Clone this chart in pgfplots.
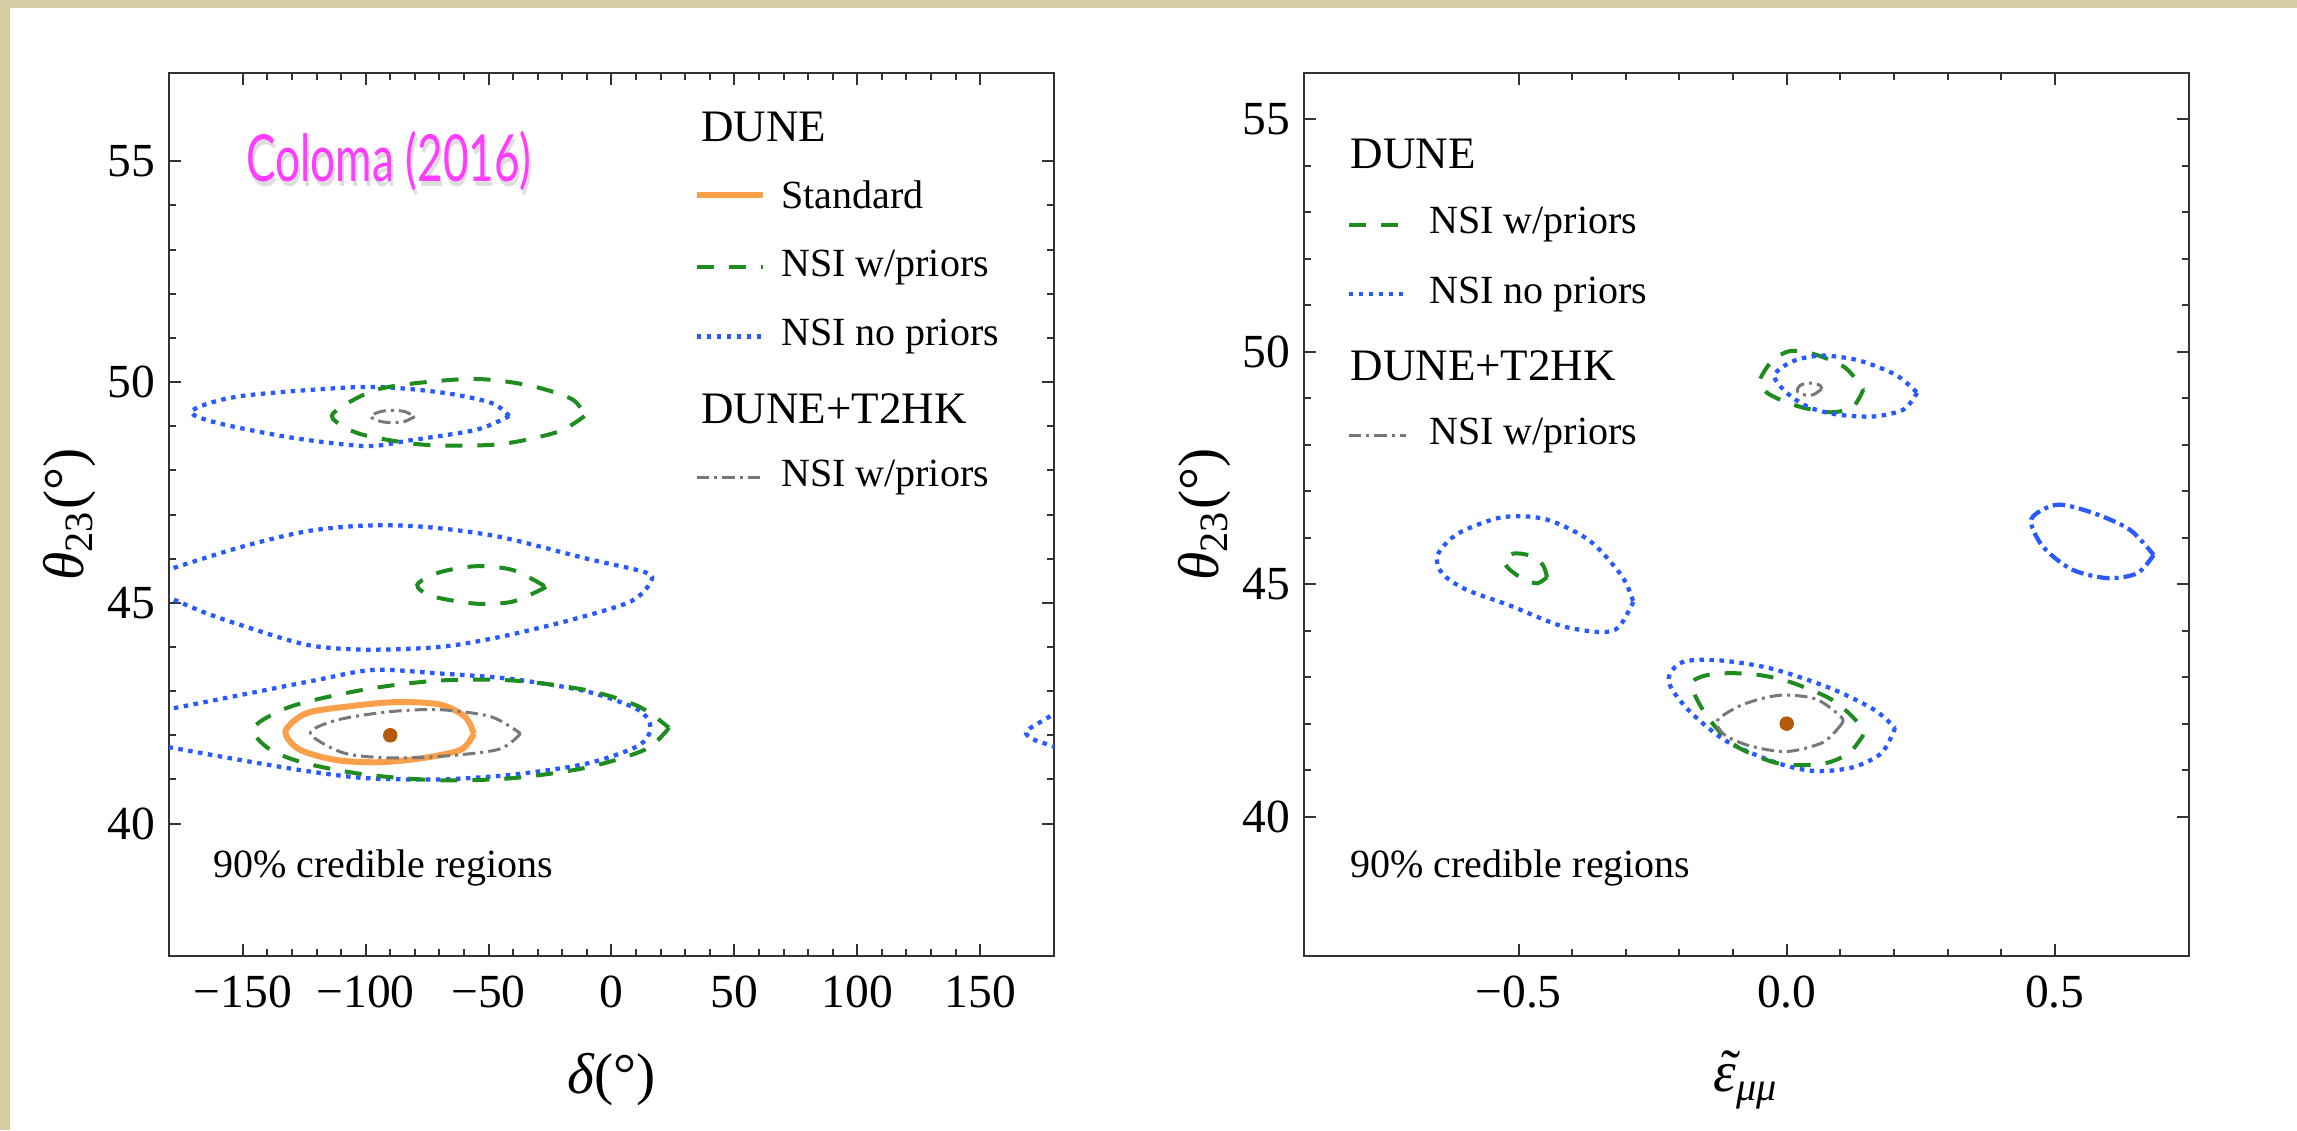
\documentclass[border=0pt]{standalone}
\usepackage{fontspec}
\setmainfont{Liberation Serif}
\newfontfamily\handfont{Lato}
\usepackage{pgfplots}
\pgfplotsset{compat=1.18}
\definecolor{beige}{RGB}{214,203,163}
\definecolor{stdorange}{RGB}{250,160,75}
\definecolor{nsigreen}{RGB}{30,140,30}
\definecolor{nsiblue}{RGB}{40,90,255}
\definecolor{nsigray}{RGB}{120,120,120}
\definecolor{dotbrown}{RGB}{180,90,10}
\definecolor{magenta2}{RGB}{255,60,255}
\tikzset{
  stdline/.style={draw=stdorange, line width=1.2pt, solid},
  greenline/.style={draw=nsigreen, line width=0.8pt, dash pattern=on 3.4pt off 3pt},
  blueline/.style={draw=nsiblue, line width=0.85pt, dash pattern=on 0.9pt off 1.1pt},
  grayline/.style={draw=nsigray, line width=0.6pt, dash pattern=on 2.5pt off 1pt on 0.6pt off 1pt},
  bluedashdot/.style={draw=nsiblue, line width=0.85pt, dash pattern=on 2.5pt off 1pt on 0.8pt off 1pt},
}
\newcommand\tickfont{\rmfamily\fontsize{9.5}{11}\selectfont}
\newcommand\legfont{\fontsize{8}{9.5}\selectfont}
\newcommand\headfont{\fontsize{9}{10.5}\selectfont}
\newcommand\labfont{\rmfamily\fontsize{11.5}{13}\selectfont}
\pgfplotsset{
  myaxis/.style={
    scale only axis, width=177pt, height=176.6pt,
    axis line style={line width=0.4pt, draw=black!80},
    every tick/.style={black!80, line width=0.4pt},
    major tick length=2.4pt, minor tick length=1.4pt,
    tick align=inside,
    ticklabel style={font=\tickfont},
    xticklabel style={yshift=-0.5pt},
    yticklabel style={xshift=0.8pt},
    minor x tick num=4, minor y tick num=4,
    ymin=37,
    ytick={40,45,50,55}, yticklabels={40,45,50,55},
    every axis x label/.style={at={(axis description cs:0.5,-0.1404)}, anchor=center, font=\labfont},
    every axis y label/.style={at={(axis description cs:-0.112,0.5)}, rotate=90, anchor=center, font=\labfont},
    legend style={draw=none},
  }
}
\begin{document}
\begin{tikzpicture}
\useasboundingbox (0,0) rectangle (459.4pt,226pt);
\fill[white] (0,0) rectangle (459.4pt,226pt);
\fill[beige] (0,224.4pt) rectangle (459.4pt,226pt);
\fill[beige] (0,0) rectangle (2pt,226pt);

% ---------------- Left panel ----------------
\begin{axis}[myaxis,
  at={(33.8pt,34.8pt)}, anchor=south west,
  xmin=-180, xmax=180, ymax=57,
  xtick={-150,-100,-50,0,50,100,150},
  xticklabels={−150,−100,−50,0,50,100,150},
  xlabel={{\itshape δ}(°)},
  ylabel={{\itshape θ}\textsubscript{23}(°)},
]
% blue dotted, upper
\addplot[blueline, smooth] coordinates {(-41.6,49.23) (-55,48.92) (-82,48.68) (-100,48.55) (-130,48.74) (-160,49.07) (-171,49.31) (-162,49.55) (-145,49.72) (-100,49.89) (-70,49.77) (-49,49.53) (-41.6,49.23)};
% green dashed, upper
\addplot[greenline, smooth] coordinates {(-11,49.23) (-22,48.87) (-46,48.59) (-76,48.58) (-100,48.79) (-110.5,49.04) (-112.9,49.31) (-94,49.85) (-58,50.07) (-34,49.93) (-16,49.61) (-11,49.23)};
% gray upper tiny
\addplot[grayline, smooth] coordinates {(-80,49.22) (-84,49.11) (-89,49.08) (-94,49.11) (-98,49.22) (-94,49.33) (-89,49.36) (-84,49.33) (-80,49.22)};
% blue middle (wraps)
\addplot[blueline, smooth] coordinates {(-182,45.72) (-151,46.26) (-124,46.62) (-100,46.75) (-76,46.72) (-46,46.5) (-10,46.0) (13.8,45.69) (15.9,45.47) (7.8,45.03) (-16,44.62) (-46,44.22) (-70,44.0) (-100,43.94) (-124,44.05) (-151,44.5) (-166,44.79) (-182,45.17)};
% green middle
\addplot[greenline, smooth] coordinates {(-26.6,45.36) (-40,45.03) (-55,44.98) (-73,45.15) (-79,45.41) (-70,45.69) (-55,45.83) (-40,45.74) (-26.6,45.36)};
% blue lower (wraps)
\addplot[blueline, smooth] coordinates {(-182,42.57) (-151,42.91) (-121,43.24) (-97,43.48) (-70,43.40) (-40,43.27) (-10,42.99) (10.8,42.58) (15.9,42.17) (10.8,41.76) (-10,41.36) (-40,41.11) (-70,41.0) (-100,41.03) (-124,41.19) (-151,41.44) (-182,41.75)};
\addplot[blueline, smooth] coordinates {(182,42.55) (176,42.35) (170,42.15) (168.6,42.05) (171,41.92) (177,41.8) (182,41.7)};
% green lower
\addplot[greenline, smooth] coordinates {(23.4,42.17) (13.8,41.68) (-10,41.27) (-40,41.03) (-70,40.98) (-100,41.11) (-124,41.36) (-139,41.68) (-145.5,42.17) (-130,42.66) (-100,43.04) (-70,43.24) (-40,43.24) (-10,43.02) (10.8,42.66) (23.4,42.17)};
% orange standard
\addplot[stdline, smooth] coordinates {(-56,42.04) (-61,41.68) (-76,41.49) (-94,41.39) (-112,41.44) (-127,41.68) (-132.6,42.09) (-124,42.5) (-106,42.66) (-88,42.75) (-70,42.70) (-59.6,42.42) (-56,42.04)};
% gray lower
\addplot[grayline, smooth] coordinates {(-37,42.04) (-46,41.68) (-70,41.52) (-91,41.49) (-109,41.60) (-122.5,42.04) (-112,42.34) (-91,42.53) (-70,42.58) (-49,42.42) (-37,42.04)};
% best fit point
\addplot[only marks, mark=*, mark size=1.25pt, color=dotbrown] coordinates {(-90,42)};

% legend
\node[anchor=west, inner sep=0, font=\headfont] at (axis cs:36.2,55.77) {DUNE};
\draw[stdline] (axis cs:34.7,54.23) -- (axis cs:61.7,54.23);
\node[anchor=west, inner sep=0, font=\legfont] at (axis cs:68.6,54.23) {Standard};
\draw[greenline] (axis cs:34.7,52.60) -- (axis cs:61.7,52.60);
\node[anchor=west, inner sep=0, font=\legfont] at (axis cs:68.6,52.60) {NSI w/priors};
\draw[blueline] (axis cs:34.7,51.03) -- (axis cs:61.7,51.03);
\node[anchor=west, inner sep=0, font=\legfont] at (axis cs:68.6,51.03) {NSI no priors};
\node[anchor=west, inner sep=0, font=\headfont] at (axis cs:36.2,49.40) {DUNE+T2HK};
\draw[grayline] (axis cs:34.7,47.83) -- (axis cs:61.7,47.83);
\node[anchor=west, inner sep=0, font=\legfont] at (axis cs:68.6,47.83) {NSI w/priors};
\node[anchor=west, inner sep=0, font=\legfont] at (axis cs:-162.3,38.99) {90\% credible regions};
% Coloma label
\node[inner sep=0, text=black!25, opacity=0.5] at (axis cs:-89.8,54.9) {\scalebox{0.68}[1]{\handfont\fontsize{13}{15}\selectfont Coloma (2016)}};
\node[inner sep=0, text=magenta2] at (axis cs:-90.5,55.0) {\scalebox{0.68}[1]{\handfont\fontsize{13}{15}\selectfont Coloma (2016)}};
\end{axis}

% ---------------- Right panel ----------------
\begin{axis}[myaxis,
  at={(260.8pt,34.8pt)}, anchor=south west,
  xmin=-0.9, xmax=0.75, ymax=56,
  xtick={-0.5,0,0.5},
  xticklabels={−0.5,0.0,0.5},
  xlabel={\makebox[0pt][l]{\kern0.14em\raisebox{0.1ex}{˜}}{\itshape ε}\textsubscript{\itshape μμ}},
  ylabel={{\itshape θ}\textsubscript{23}(°)},
]
\addplot[greenline, smooth] coordinates {(0.143,49.19) (0.123,48.81) (0.082,48.70) (0.027,48.81) (-0.020,49.01) (-0.044,49.19) (-0.050,49.40) (-0.027,49.81) (0.007,50.02) (0.054,49.94) (0.109,49.66) (0.143,49.19)};
\addplot[blueline, smooth] coordinates {(0.243,49.12) (0.218,48.76) (0.163,48.61) (0.095,48.65) (0.041,48.81) (0.0,49.12) (-0.023,49.50) (0.014,49.81) (0.068,49.92) (0.136,49.81) (0.204,49.50) (0.243,49.12)};
\addplot[grayline, smooth] coordinates {(0.065,49.2) (0.05,49.08) (0.035,49.07) (0.02,49.15) (0.025,49.28) (0.045,49.33) (0.062,49.28) (0.065,49.2)};
\addplot[blueline, smooth] coordinates {(-0.286,44.62) (-0.313,44.08) (-0.347,43.97) (-0.422,44.11) (-0.518,44.55) (-0.599,44.89) (-0.643,45.24) (-0.651,45.63) (-0.613,46.09) (-0.531,46.44) (-0.450,46.40) (-0.368,45.94) (-0.307,45.17) (-0.286,44.62)};
\addplot[greenline, smooth] coordinates {(-0.447,45.15) (-0.465,45.02) (-0.49,45.10) (-0.518,45.33) (-0.527,45.52) (-0.51,45.66) (-0.48,45.62) (-0.455,45.42) (-0.447,45.15)};
\addplot[bluedashdot, smooth] coordinates {(0.684,45.63) (0.654,45.24) (0.599,45.13) (0.531,45.32) (0.477,45.82) (0.456,46.40) (0.504,46.71) (0.572,46.53) (0.640,46.17) (0.684,45.63)};
\addplot[blueline, smooth] coordinates {(0.202,41.91) (0.177,41.37) (0.123,41.06) (0.054,40.98) (-0.014,41.14) (-0.109,41.60) (-0.177,42.22) (-0.215,42.76) (-0.218,43.07) (-0.191,43.34) (-0.123,43.36) (-0.027,43.18) (0.082,42.76) (0.163,42.30) (0.202,41.91)};
\addplot[greenline, smooth] coordinates {(0.143,41.76) (0.116,41.37) (0.068,41.14) (-0.014,41.14) (-0.095,41.52) (-0.143,42.07) (-0.171,42.61) (-0.174,42.92) (-0.136,43.07) (-0.068,43.07) (0.0,42.92) (0.082,42.53) (0.129,42.07) (0.143,41.76)};
\addplot[grayline, smooth] coordinates {(0.102,41.99) (0.068,41.60) (0.0,41.40) (-0.068,41.52) (-0.116,41.76) (-0.129,42.07) (-0.082,42.41) (-0.014,42.61) (0.054,42.53) (0.102,42.14) (0.102,41.99)};
\addplot[only marks, mark=*, mark size=1.25pt, color=dotbrown] coordinates {(0,42)};

\node[anchor=west, inner sep=0, font=\headfont] at (axis cs:-0.815,54.26) {DUNE};
\draw[greenline] (axis cs:-0.817,52.73) -- (axis cs:-0.722,52.73);
\node[anchor=west, inner sep=0, font=\legfont] at (axis cs:-0.668,52.73) {NSI w/priors};
\draw[blueline] (axis cs:-0.817,51.24) -- (axis cs:-0.71,51.24);
\node[anchor=west, inner sep=0, font=\legfont] at (axis cs:-0.668,51.24) {NSI no priors};
\node[anchor=west, inner sep=0, font=\headfont] at (axis cs:-0.815,49.69) {DUNE+T2HK};
\draw[grayline] (axis cs:-0.817,48.19) -- (axis cs:-0.71,48.19);
\node[anchor=west, inner sep=0, font=\legfont] at (axis cs:-0.668,48.19) {NSI w/priors};
\node[anchor=west, inner sep=0, font=\legfont] at (axis cs:-0.815,38.89) {90\% credible regions};
\end{axis}
\end{tikzpicture}
\end{document}
